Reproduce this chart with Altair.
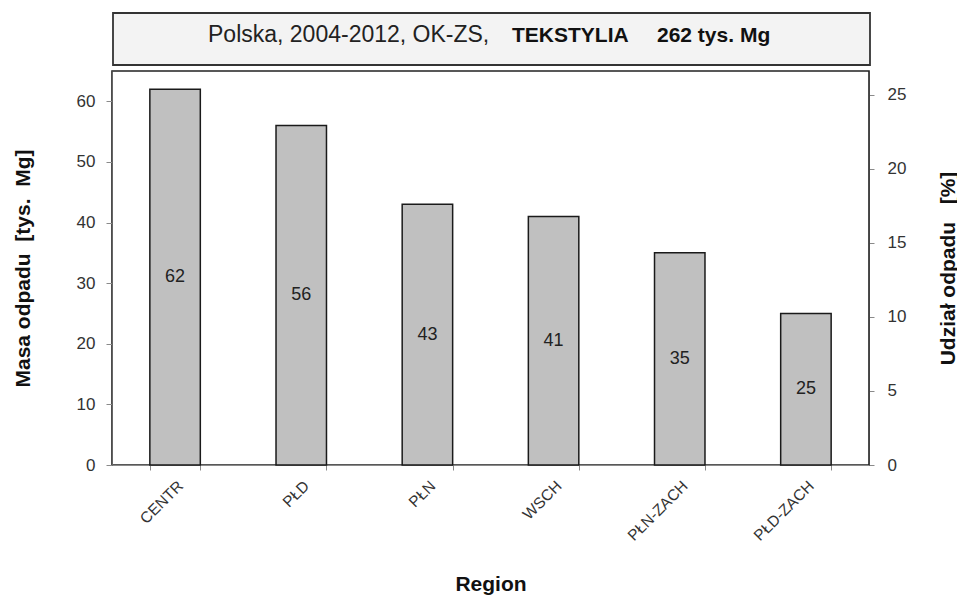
import altair as alt
import pandas as pd

# ---- data ----
regions = ["CENTR", "PŁD", "PŁN", "WSCH", "PŁN-ZACH", "PŁD-ZACH"]
masses = [62, 56, 43, 41, 35, 25]          # tys. Mg
total_mass = 262                            # tys. Mg (from the header)
left_ticks = [0, 10, 20, 30, 40, 50, 60]
right_ticks = [0, 5, 10, 15, 20, 25]
header_plain = "Polska, 2004-2012, OK-ZS,"
header_bold_1 = "TEKSTYLIA"
header_bold_2 = "262 tys. Mg"
x_title = "Region"
y_left_title = "Masa odpadu\u00a0\u00a0[tys.\u00a0\u00a0Mg]"
y_right_title = "Udział odpadu\u00a0\u00a0\u00a0[%]"

df = pd.DataFrame({"region": regions, "mass": masses})
one = pd.DataFrame({"k": [0]})

W, H = 757, 394
FONT = "Liberation Sans"
GRAY = "#8a8a8a"

x_scale = alt.Scale(paddingInner=0.6, paddingOuter=0.3)
x_axis = alt.Axis(title=x_title, labelAngle=-45, tickBand="extent", tickSize=5,
                  tickColor=GRAY, domainColor=GRAY, labelFont=FONT, labelFontSize=15.5,
                  labelColor="#333", labelPadding=8,
                  titleFont=FONT, titleFontSize=21, titleFontWeight="bold",
                  titleColor="#111", titleY=119, titleBaseline="middle")
y_left_scale = alt.Scale(domain=[0, 65], nice=False, zero=True)
y_left_axis = alt.Axis(values=left_ticks, grid=False, tickSize=6, tickColor=GRAY,
                       domainColor="#666", labelFont=FONT, labelFontSize=17,
                       labelColor="#333", labelPadding=11,
                       title=y_left_title, titleFont=FONT, titleFontSize=21,
                       titleFontWeight="bold", titleColor="#111", titleAngle=270,
                       titleX=-89, titleY=H / 2, titleBaseline="middle",
                       titleAlign="center")

bars = alt.Chart(df).mark_bar(color="#c0c0c0", stroke="#1a1a1a", strokeWidth=1.5).encode(
    x=alt.X("region:N", sort=regions, scale=x_scale, axis=x_axis),
    y=alt.Y("mass:Q", scale=y_left_scale, axis=y_left_axis),
)

labels = alt.Chart(df).transform_calculate(half="datum.mass / 2").mark_text(
    font=FONT, fontSize=18, color="#222", baseline="middle", align="center"
).encode(
    x=alt.X("region:N", sort=regions, scale=x_scale, axis=x_axis),
    y=alt.Y("half:Q", scale=y_left_scale, axis=y_left_axis),
    text="mass:Q",
)

left = alt.layer(bars, labels)

share = alt.Chart(df).transform_calculate(
    share=f"datum.mass / {total_mass} * 100"
).mark_bar(opacity=0).encode(
    x=alt.X("region:N", sort=regions, scale=x_scale, axis=x_axis),
    y=alt.Y("share:Q", scale=alt.Scale(domain=[0, 26.6], nice=False, zero=True),
            axis=alt.Axis(orient="right", values=right_ticks, grid=False, tickSize=5,
                          tickColor=GRAY, domainColor="#444", labelFont=FONT,
                          labelFontSize=17, labelColor="#333", labelPadding=13,
                          title=y_right_title, titleFont=FONT, titleFontSize=21,
                          titleFontWeight="bold", titleColor="#111", titleAngle=270,
                          titleX=79, titleY=H / 2, titleBaseline="middle",
                          titleAlign="center")),
)

box = alt.Chart(one).mark_rect(fill="#f3f3f3", stroke="#333", strokeWidth=1.8).encode(
    x=alt.value(1), x2=alt.value(758), y=alt.value(-58), y2=alt.value(-6)
)

t_plain = alt.Chart(one).mark_text(
    font=FONT, fontSize=23, color="#222", align="left", baseline="alphabetic"
).encode(x=alt.value(96), y=alt.value(-29), text=alt.value(header_plain))

t_b1 = alt.Chart(one).mark_text(
    font=FONT, fontSize=21, fontWeight="bold", color="#111", align="left", baseline="alphabetic"
).encode(x=alt.value(400), y=alt.value(-29), text=alt.value(header_bold_1))

t_b2 = alt.Chart(one).mark_text(
    font=FONT, fontSize=21, fontWeight="bold", color="#111", align="left", baseline="alphabetic"
).encode(x=alt.value(545), y=alt.value(-29), text=alt.value(header_bold_2))

chart = alt.layer(left, share, box, t_plain, t_b1, t_b2).resolve_scale(
    y="independent"
).properties(
    width=W, height=H,
    autosize=alt.AutoSizeParams(type="none"),
    padding={"left": 104, "top": 63, "right": 88, "bottom": 131},
    background="white",
).configure_view(stroke="#222", strokeWidth=1.6)

chart.save("out.html", embed_options={"renderer": "svg", "actions": False})
